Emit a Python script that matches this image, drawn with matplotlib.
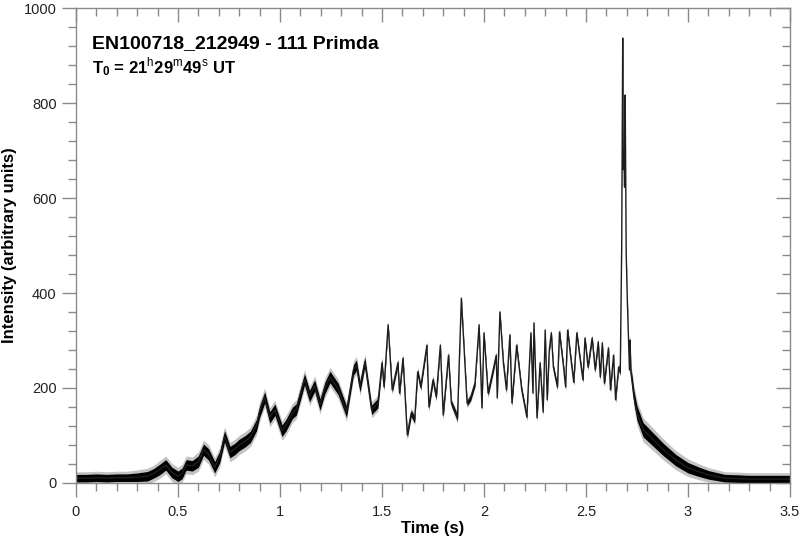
import matplotlib
matplotlib.use("Agg")
import matplotlib.pyplot as plt
from matplotlib.ticker import MultipleLocator

# values (time in s, intensity in arbitrary units)
times = [0.00, 0.05, 0.10, 0.15, 0.20, 0.25, 0.30, 0.35, 0.38, 0.41,
         0.44, 0.47, 0.50, 0.52, 0.54, 0.57, 0.60, 0.625, 0.65, 0.68,
         0.705, 0.728, 0.755, 0.78, 0.80, 0.83, 0.855, 0.885, 0.90, 0.925,
         0.95, 0.975, 1.01, 1.03, 1.06, 1.08, 1.12, 1.145, 1.17, 1.196,
         1.22, 1.245, 1.285, 1.326, 1.36, 1.375, 1.392, 1.416, 1.449, 1.48,
         1.50, 1.51, 1.53, 1.55, 1.578, 1.586, 1.603, 1.624, 1.643, 1.66,
         1.675, 1.69, 1.72, 1.73, 1.75, 1.766, 1.786, 1.80, 1.826, 1.84,
         1.87, 1.889, 1.917, 1.935, 1.956, 1.976, 1.99, 2.00, 2.02, 2.045,
         2.06, 2.065, 2.078, 2.095, 2.11, 2.127, 2.137, 2.16, 2.185, 2.21,
         2.23, 2.24, 2.245, 2.26, 2.275, 2.29, 2.30, 2.31, 2.32, 2.33,
         2.34, 2.36, 2.37, 2.39, 2.40, 2.41, 2.425, 2.44, 2.455, 2.47,
         2.485, 2.495, 2.51, 2.53, 2.545, 2.56, 2.57, 2.58, 2.59, 2.61,
         2.62, 2.635, 2.645, 2.66, 2.668, 2.675, 2.68, 2.683, 2.686, 2.689,
         2.692, 2.697, 2.703, 2.708, 2.713, 2.716, 2.72, 2.725, 2.735, 2.75,
         2.78, 2.83, 2.88, 2.94, 3.00, 3.05, 3.10, 3.18, 3.25, 3.30,
         3.40, 3.50]

intensity = [10, 10, 11, 10, 11, 11, 12, 14, 20, 28,
             38, 22, 14, 20, 38, 36, 45, 70, 60, 33,
             55, 98, 65, 72, 80, 88, 97, 122, 150, 180,
             138, 154, 110, 122, 147, 155, 218, 183, 205, 165,
             200, 223, 198, 150, 238, 248, 202, 255, 154, 168,
             253, 202, 333, 196, 253, 189, 263, 101, 147, 133,
             234, 202, 290, 160, 217, 181, 290, 143, 269, 168,
             137, 389, 168, 180, 210, 333, 158, 316, 189, 238,
             269, 179, 360, 253, 196, 312, 168, 290, 196, 139,
             316, 189, 337, 137, 253, 149, 322, 175, 280, 316,
             244, 202, 318, 244, 202, 322, 265, 212, 316, 265,
             217, 305, 244, 305, 238, 297, 223, 295, 210, 284,
             196, 269, 175, 244, 232, 500, 937, 660, 700, 623,
             817, 484, 379, 308, 238, 301, 232, 217, 181, 147,
             112, 91, 70, 48, 32, 24, 17, 10, 9, 8,
             8, 8]

# half width of the noisy band around the curve
spread = [8, 8, 8, 8, 8, 8, 9, 10, 10, 11,
          11, 11, 11, 11, 11, 11, 12, 12, 12, 12,
          12, 12, 12, 12, 12, 12, 12, 12, 12, 12,
          12, 12, 12, 12, 12, 12, 12, 12, 12, 12,
          12, 12, 12, 12, 11, 11, 11, 10, 10, 10,
          8, 6, 5, 6, 6, 6, 5, 6, 7, 7,
          6, 6, 5, 6, 6, 6, 5, 6, 6, 6,
          7, 4, 6, 6, 6, 4, 6, 4, 6, 6,
          5, 5, 4, 5, 6, 4, 6, 5, 5, 5,
          4, 5, 4, 5, 5, 5, 4, 5, 5, 5,
          5, 5, 5, 5, 5, 5, 5, 5, 5, 5,
          5, 5, 5, 5, 5, 5, 5, 5, 5, 5,
          5, 5, 5, 5, 5, 4, 4, 4, 4, 4,
          4, 4, 4, 4, 6, 8, 10, 12, 14, 15,
          15, 14, 13, 12, 11, 10, 9, 8, 8, 8,
          8, 8]

TITLE = "EN100718_212949 - 111 Primda"

plt.rcParams['font.family'] = ['Liberation Sans', 'DejaVu Sans']
plt.rcParams['mathtext.fontset'] = 'custom'
plt.rcParams['mathtext.rm'] = 'Liberation Sans'
plt.rcParams['mathtext.bf'] = 'Liberation Sans:bold'

fig = plt.figure(figsize=(8, 5.42), dpi=100)
ax = fig.add_axes([0.095, 0.109, 0.8925, 0.876])

# fuzzy outer fringe, dark core band, then the curve itself
lo_out = [v - 1.7 * s for v, s in zip(intensity, spread)]
hi_out = [v + 1.7 * s for v, s in zip(intensity, spread)]
lo = [v - s for v, s in zip(intensity, spread)]
hi = [v + s for v, s in zip(intensity, spread)]
ax.fill_between(times, lo_out, hi_out, color='#6a6a6a', alpha=0.4, linewidth=0)
ax.fill_between(times, lo, hi, color='black', linewidth=0)
ax.plot(times, intensity, color='#1e1e1e', linewidth=1.0)

ax.set_xlim(0, 3.5)
ax.set_ylim(0, 1000)

ax.xaxis.set_minor_locator(MultipleLocator(0.1))
ax.yaxis.set_major_locator(MultipleLocator(200))
ax.yaxis.set_minor_locator(MultipleLocator(40))
ax.set_xticks([0, 0.5, 1, 1.5, 2, 2.5, 3, 3.5])
ax.set_xticklabels(['0', '0.5', '1', '1.5', '2', '2.5', '3', '3.5'])

grey = '#8a8a8a'
for sp in ax.spines.values():
    sp.set_color(grey)
    sp.set_linewidth(1.0)

# bottom/left ticks point out, top/right ticks point in
ax.tick_params(which='both', direction='out', color=grey, width=1,
               labelsize=10.5, labelcolor='#222222')
ax.tick_params(which='major', length=10)
ax.tick_params(which='minor', length=5.5)
ax.tick_params(axis='x', pad=6)
ax.tick_params(axis='y', pad=4)

ax_top = ax.secondary_xaxis('top')
ax_top.xaxis.set_major_locator(MultipleLocator(0.5))
ax_top.xaxis.set_minor_locator(MultipleLocator(0.1))
ax_top.tick_params(which='both', direction='in', color=grey, width=1, labeltop=False)
ax_top.tick_params(which='major', length=10)
ax_top.tick_params(which='minor', length=5.5)
ax_top.spines['top'].set_visible(False)

ax_right = ax.secondary_yaxis('right')
ax_right.yaxis.set_major_locator(MultipleLocator(200))
ax_right.yaxis.set_minor_locator(MultipleLocator(40))
ax_right.tick_params(which='both', direction='in', color=grey, width=1, labelright=False)
ax_right.tick_params(which='major', length=10)
ax_right.tick_params(which='minor', length=5.5)
ax_right.spines['right'].set_visible(False)

ax.set_xlabel('Time (s)', fontsize=12, fontweight='bold', labelpad=1)
ax.set_ylabel('Intensity (arbitrary units)', fontsize=12, fontweight='bold', labelpad=5)

ax.text(0.022, 0.915, TITLE, transform=ax.transAxes, fontsize=14,
        fontweight='bold', va='baseline')
ax.text(0.022, 0.862, r'$\mathbf{T_0}$ = 21$^\mathrm{h}$29$^\mathrm{m}$49$^\mathrm{s}$ UT',
        transform=ax.transAxes, fontsize=12, fontweight='bold', va='baseline')

fig.savefig('out.png', dpi=100)
